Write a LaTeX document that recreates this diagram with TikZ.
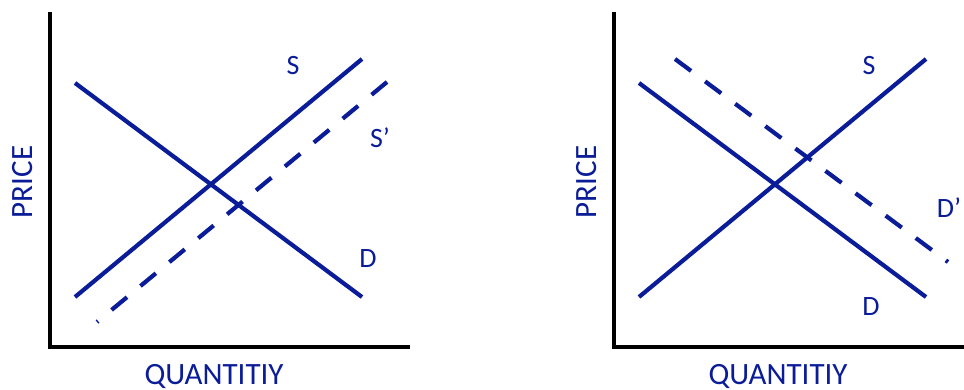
\documentclass[tikz,border=0pt]{standalone}
\usepackage{fontspec}
\setmainfont{Carlito}
\usetikzlibrary{calc}
\definecolor{MarketBlue}{HTML}{0A1C98}

\begin{document}
\begin{tikzpicture}[x=1pt,y=-1pt,
  axisline/.style={black,line width=4.2pt},
  curve/.style={MarketBlue,line width=4.2pt},
  shifted/.style={curve,dash pattern=on 20pt off 17.5pt},
  lbl/.style={MarketBlue,font=\fontsize{28}{28}\selectfont,inner sep=0pt,anchor=base},
  axlbl/.style={MarketBlue,font=\fontsize{31}{31}\selectfont,inner sep=0pt,anchor=base}]
\clip (0,0) rectangle (964,390);
% both panels: axes, S and D
\foreach \p/\dx in {L/0,R/564}{
  \coordinate (Ytop\p) at (50+\dx,12);
  \coordinate (O\p) at (50+\dx,347);
  \coordinate (Xend\p) at (410+\dx,347);
  \draw[axisline] (Ytop\p) -- (O\p) -- (Xend\p);
  \coordinate (Dhi\p) at (75+\dx,83);
  \coordinate (Dlo\p) at (362+\dx,297);
  \coordinate (Slo\p) at (75+\dx,297);
  \coordinate (Shi\p) at (362+\dx,59);
  \draw[curve] (Dhi\p) -- (Dlo\p);
  \draw[curve] (Slo\p) -- (Shi\p);
  \node[axlbl,rotate=90] (price\p) at (32+\dx,182) {PRICE};
  \node[axlbl] (qty\p) at (214+\dx,384) {QUANTITIY};
}
% left: supply shift
\coordinate (S2hi) at (387,82);
\coordinate (S2lo) at (97,322);
\draw[shifted] (S2hi) -- (S2lo);
\node[lbl] (sL) at (293,75) {S};
\node[lbl] (s2L) at (380,148) {S’};
\node[lbl] (dL) at (368,267) {D};
% right: demand shift
\coordinate (D2hi) at (675,59);
\coordinate (D2lo) at (948,262);
\draw[shifted] (D2hi) -- (D2lo);
\node[lbl] (sR) at (869,75) {S};
\node[lbl] (d2R) at (949,218) {D’};
\node[lbl] (dR) at (871,315) {D};
\end{tikzpicture}
\end{document}
